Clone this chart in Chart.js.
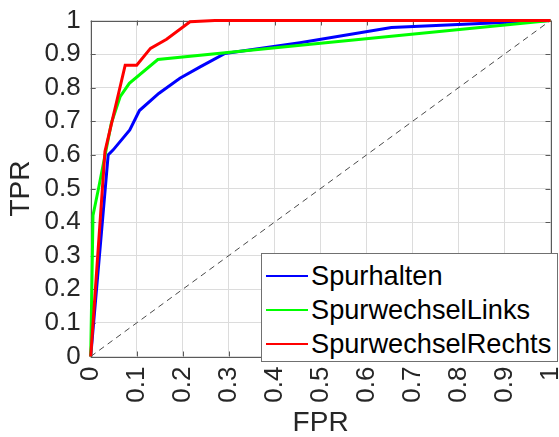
<!DOCTYPE html>
<html>
<head>
<meta charset="utf-8">
<script src="https://cdn.jsdelivr.net/npm/chart.js@4/dist/chart.umd.min.js"></script>
<style>
  body { margin: 0; background: #fff; }
  #wrap { position: relative; width: 559px; height: 437px; }
  #legend {
    position: absolute; left: 261px; top: 253px; width: 295px; height: 102px;
    border: 1px solid #707070; background: #fff; padding-top: 5px;
    font-family: "Liberation Sans", Arial, sans-serif; font-size: 27.2px; color: #000;
  }
  .row { height: 34px; line-height: 34px; display: flex; align-items: center; white-space: nowrap; }
  .swatch { width: 42px; height: 2px; margin-left: 4px; margin-right: 3px; }
</style>
</head>
<body>
<div id="wrap">
  <canvas id="roc" width="559" height="437"></canvas>
  <div id="legend"></div>
</div>
<script>
// ROC curves

const fprSpurhalten = [0, 0.038, 0.049, 0.085, 0.106, 0.148, 0.194, 0.238, 0.292, 0.455, 0.654, 0.933, 1];
const tprSpurhalten = [0, 0.600, 0.615, 0.674, 0.732, 0.783, 0.828, 0.862, 0.902, 0.934, 0.979, 0.996, 1];

const fprLinks = [0, 0.005, 0.017, 0.045, 0.064, 0.084, 0.146, 0.5, 1];
const tprLinks = [0, 0.420, 0.500, 0.695, 0.773, 0.813, 0.884, 0.932, 1];

const fprRechts = [0, 0.031, 0.075, 0.100, 0.130, 0.165, 0.216, 0.270, 1];
const tprRechts = [0, 0.610, 0.867, 0.867, 0.917, 0.944, 0.996, 1, 1];

const fprDiag = [0, 1];
const tprDiag = [0, 1];

const axisTicks = [0, 0.1, 0.2, 0.3, 0.4, 0.5, 0.6, 0.7, 0.8, 0.9, 1];
const tickLabels = ["0", "0.1", "0.2", "0.3", "0.4", "0.5", "0.6", "0.7", "0.8", "0.9", "1"];

const font = "'Liberation Sans', Arial, sans-serif";
const textColor = "#262626";
const frameColor = "#5a5a5a";

const points = (xs, ys) => xs.map((x, i) => ({ x: x, y: ys[i] }));

const curve = (label, xs, ys, color, order) => ({
  label: label,
  data: points(xs, ys),
  borderColor: color,
  backgroundColor: color,
  borderWidth: 3,
  pointRadius: 0,
  showLine: true,
  clip: 6,
  order: order
});

// box round the plot with inward ticks, like the original
const frame = {
  id: "frame",
  beforeDatasetsDraw(chart) {
    const { ctx, chartArea: a, scales } = chart;
    ctx.save();
    ctx.strokeStyle = frameColor;
    ctx.lineWidth = 1;
    ctx.beginPath();
    for (const v of axisTicks) {
      const px = Math.round(scales.x.getPixelForValue(v)) + 0.5;
      ctx.moveTo(px, a.bottom); ctx.lineTo(px, a.bottom - 5);
      ctx.moveTo(px, a.top); ctx.lineTo(px, a.top + 5);
      const py = Math.round(scales.y.getPixelForValue(v)) + 0.5;
      ctx.moveTo(a.left, py); ctx.lineTo(a.left + 5, py);
      ctx.moveTo(a.right, py); ctx.lineTo(a.right - 5, py);
    }
    ctx.stroke();
    ctx.strokeRect(Math.round(a.left) + 0.5, Math.round(a.top) + 0.5,
      Math.round(a.right - a.left), Math.round(a.bottom - a.top));
    ctx.restore();
  }
};

const chart = new Chart(document.getElementById("roc"), {
  type: "scatter",
  data: {
    datasets: [
      curve("Spurhalten", fprSpurhalten, tprSpurhalten, "#0000ff", 3),
      curve("SpurwechselLinks", fprLinks, tprLinks, "#00ff00", 2),
      curve("SpurwechselRechts", fprRechts, tprRechts, "#ff0000", 1),
      {
        label: "diag",
        data: points(fprDiag, tprDiag),
        borderColor: "#4a4a4a",
        borderWidth: 1,
        borderDash: [6, 4.5],
        pointRadius: 0,
        showLine: true,
        order: 4
      }
    ]
  },
  options: {
    responsive: false,
    animation: false,
    layout: { padding: { top: 20.5, right: 8.5, left: 0, bottom: 0 } },
    plugins: { legend: { display: false }, tooltip: { enabled: false } },
    scales: {
      x: {
        type: "linear",
        min: 0,
        max: 1,
        afterBuildTicks: s => { s.ticks = axisTicks.map(v => ({ value: v })); },
        afterFit: s => {
          s.height = 80.5;
          s.paddingLeft = 0;
          s.paddingRight = 0;
        },
        grid: { color: "#dcdcdc", drawTicks: false },
        border: { display: false },
        ticks: {
          autoSkip: false,
          minRotation: 90,
          maxRotation: 90,
          padding: 10,
          color: textColor,
          font: { family: font, size: 26 },
          callback: (v, i) => tickLabels[i]
        },
        title: {
          display: true,
          text: "FPR",
          color: textColor,
          font: { family: font, size: 28, lineHeight: 1 },
          padding: { top: 0, bottom: 0 }
        }
      },
      y: {
        type: "linear",
        min: 0,
        max: 1,
        afterBuildTicks: s => { s.ticks = axisTicks.map(v => ({ value: v })); },
        afterFit: s => {
          s.width = 90.7;
          s.paddingTop = 0;
          s.paddingBottom = 0;
        },
        grid: { color: "#dcdcdc", drawTicks: false },
        border: { display: false },
        ticks: {
          autoSkip: false,
          padding: 10,
          color: textColor,
          font: { family: font, size: 26 },
          callback: (v, i) => tickLabels[i]
        },
        title: {
          display: true,
          text: "TPR",
          color: textColor,
          font: { family: font, size: 28, lineHeight: 1 },
          padding: { top: 7, bottom: 0 }
        }
      }
    }
  },
  plugins: [frame]
});

const legend = document.getElementById("legend");
for (const ds of chart.data.datasets.slice(0, 3)) {
  const row = document.createElement("div");
  row.className = "row";
  row.innerHTML = `<span class="swatch" style="background:${ds.borderColor}"></span><span>${ds.label}</span>`;
  legend.appendChild(row);
}
</script>
</body>
</html>
